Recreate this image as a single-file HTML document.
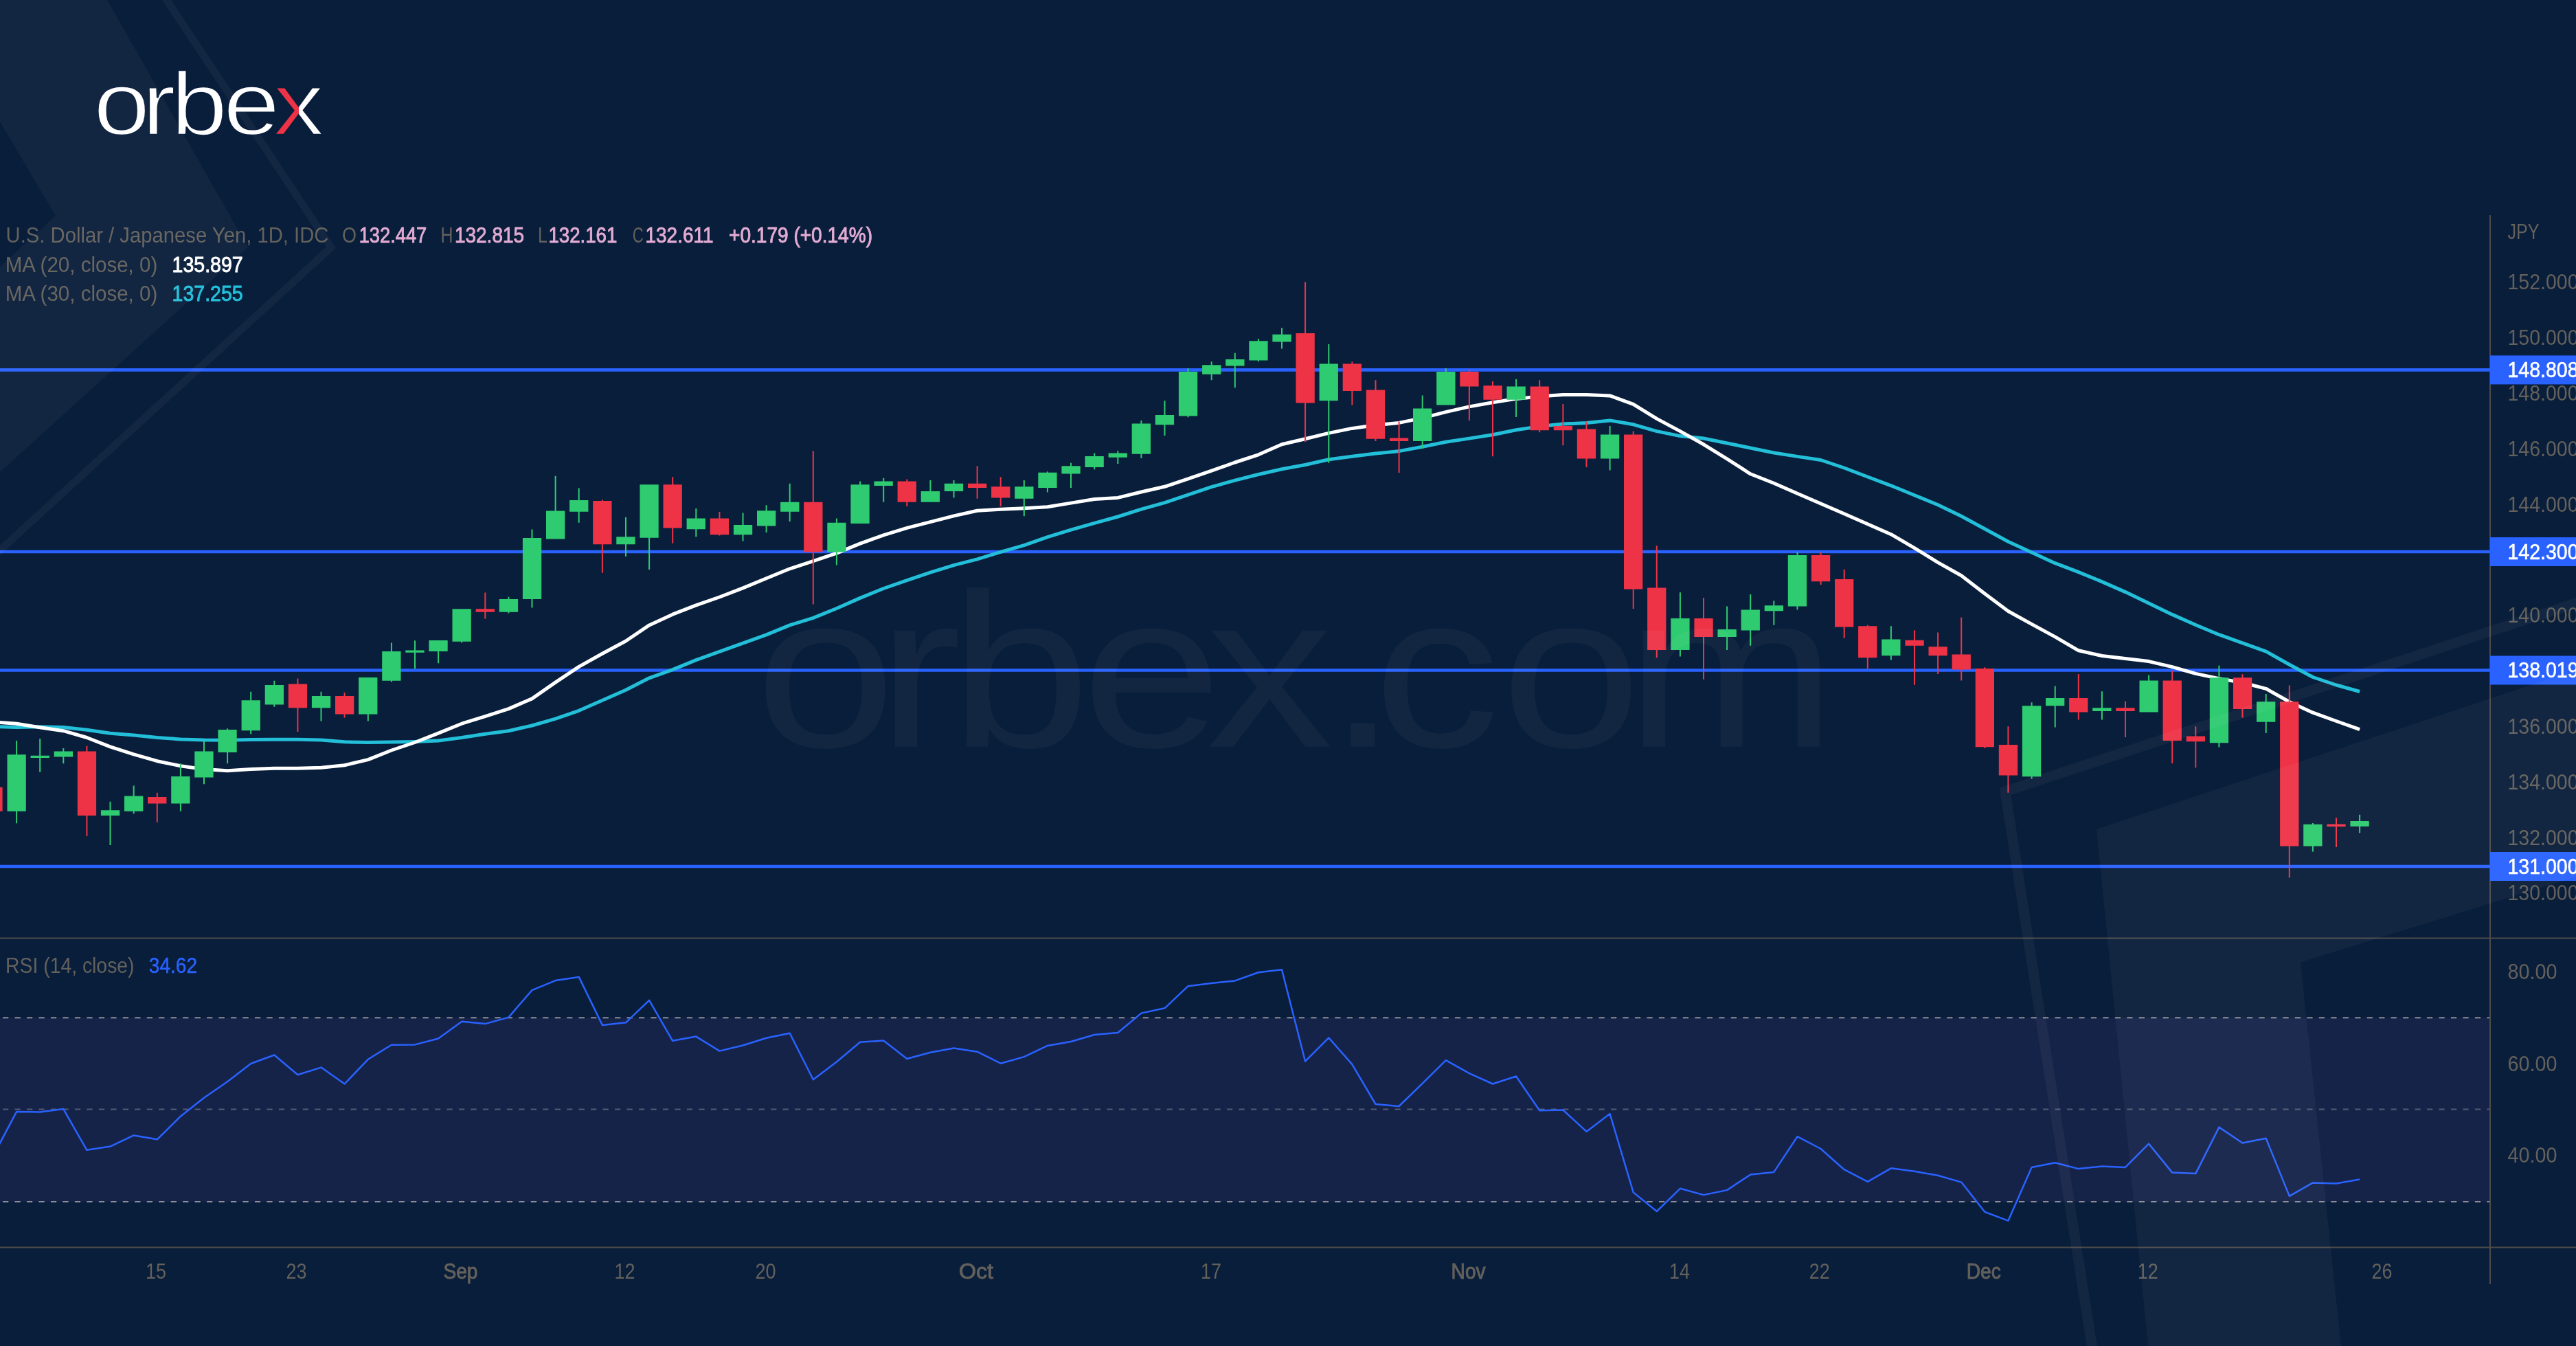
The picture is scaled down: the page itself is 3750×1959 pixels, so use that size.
<!DOCTYPE html>
<html lang="en"><head><meta charset="utf-8"><title>USDJPY chart</title>
<style>html,body{margin:0;padding:0;background:#091e3b;overflow:hidden}svg{display:block;filter:blur(0.6px)}</style></head>
<body>
<svg width="3750" height="1959" viewBox="0 0 3750 1959" font-family="'Liberation Sans', sans-serif">
<defs><linearGradient id="xg" gradientUnits="userSpaceOnUse" x1="0" x2="500" y1="0" y2="0"><stop offset="0.7028" stop-color="#ffffff"/><stop offset="0.7028" stop-color="#ee3346"/><stop offset="0.7639" stop-color="#ee3346"/><stop offset="0.7639" stop-color="#ffffff"/></linearGradient></defs>
<rect width="3750" height="1959" fill="#091e3b"/>
<text transform="scale(1.14,1)" x="119.3 181.1 218.1 285.1 348.9" y="195.7" font-size="130" fill="url(#xg)" stroke="#091e3b" stroke-width="2.4">orbex</text>
<rect x="0" y="1481.3" width="3625" height="267.7" fill="rgb(126,87,194)" fill-opacity="0.1"/>
<line x1="0" y1="1481.3" x2="3625" y2="1481.3" stroke="#a2a2a6" stroke-opacity="0.85" stroke-width="2" stroke-dasharray="8.2 9.27" stroke-dashoffset="-4.1"/>
<line x1="0" y1="1614.4" x2="3625" y2="1614.4" stroke="#a2a2a6" stroke-opacity="0.45" stroke-width="2" stroke-dasharray="8.2 9.27" stroke-dashoffset="-4.1"/>
<line x1="0" y1="1749" x2="3625" y2="1749" stroke="#a2a2a6" stroke-opacity="0.85" stroke-width="2" stroke-dasharray="8.2 9.27" stroke-dashoffset="-4.1"/>
<line x1="0" y1="1365.5" x2="3750" y2="1365.5" stroke="#4d4b49" stroke-width="2"/>
<line x1="0" y1="1815.4" x2="3750" y2="1815.4" stroke="#4d4b49" stroke-width="2"/>
<line x1="3625" y1="313" x2="3625" y2="1869" stroke="#4d4b49" stroke-width="2"/>
<line x1="0" y1="538.4" x2="3625" y2="538.4" stroke="#2962ff" stroke-width="4.7"/>
<line x1="0" y1="803.0" x2="3625" y2="803.0" stroke="#2962ff" stroke-width="4.7"/>
<line x1="0" y1="975.5" x2="3625" y2="975.5" stroke="#2962ff" stroke-width="4.7"/>
<line x1="0" y1="1261.0" x2="3625" y2="1261.0" stroke="#2962ff" stroke-width="4.7"/>
<polyline points="-0.1,1057.8 24.1,1058.5 58.2,1057.8 92.3,1058.5 126.4,1062.3 160.5,1067.2 194.7,1070.0 228.8,1073.5 262.9,1075.9 297.0,1077.0 331.1,1077.3 365.2,1076.6 399.3,1076.3 433.4,1076.3 467.5,1077.0 501.6,1079.8 535.8,1080.5 569.9,1080.1 604.0,1079.4 638.1,1078.0 672.2,1073.5 706.3,1068.2 740.4,1063.7 774.5,1056.0 808.6,1046.2 842.7,1034.3 876.9,1019.3 911.0,1004.3 945.1,986.8 979.2,974.6 1013.3,960.6 1047.4,948.4 1081.5,936.1 1115.6,923.9 1149.7,909.9 1183.8,899.4 1217.9,885.5 1252.1,870.4 1286.2,856.5 1320.3,844.6 1354.4,833.1 1388.5,822.6 1422.6,813.8 1456.7,803.4 1490.8,793.6 1524.9,781.7 1559.0,771.2 1593.2,761.4 1627.3,752.0 1661.4,741.2 1695.5,731.7 1729.6,720.2 1763.7,708.6 1797.8,699.2 1831.9,690.5 1866.0,682.8 1900.1,676.5 1934.3,668.8 1968.4,664.3 2002.5,660.1 2036.6,656.6 2070.7,650.3 2104.8,643.3 2138.9,638.1 2173.0,632.8 2207.1,625.8 2241.2,620.6 2275.4,617.1 2309.5,615.4 2343.6,611.9 2377.7,617.8 2411.8,627.6 2445.9,634.6 2480.0,638.0 2514.1,645.0 2548.2,652.0 2582.3,659.0 2616.5,664.4 2650.6,669.5 2684.7,681.0 2718.8,694.0 2752.9,706.8 2787.0,720.7 2821.1,734.7 2855.2,751.2 2889.3,769.7 2923.4,788.2 2957.6,803.9 2991.7,819.7 3025.8,832.6 3059.9,846.6 3094.0,861.6 3128.1,878.0 3162.2,894.4 3196.3,909.5 3230.4,923.7 3264.5,935.9 3298.7,948.1 3332.8,967.3 3366.9,985.5 3401.0,997.0 3435.1,1006.5" fill="none" stroke="#23bfd9" stroke-width="5" stroke-linejoin="round" stroke-linecap="butt"/>
<polyline points="-0.1,1051.5 24.1,1053.2 58.2,1058.8 92.3,1063.7 126.4,1073.5 160.5,1086.8 194.7,1097.9 228.8,1107.7 262.9,1114.7 297.0,1119.6 331.1,1121.7 365.2,1119.6 399.3,1118.2 433.4,1118.2 467.5,1117.2 501.6,1113.7 535.8,1105.6 569.9,1092.0 604.0,1080.5 638.1,1067.2 672.2,1053.2 706.3,1042.7 740.4,1031.6 774.5,1016.9 808.6,993.1 842.7,970.4 876.9,951.2 911.0,933.0 945.1,909.9 979.2,894.2 1013.3,880.9 1047.4,869.0 1081.5,855.8 1115.6,841.8 1149.7,827.8 1183.8,816.6 1217.9,805.1 1252.1,791.1 1286.2,778.9 1320.3,768.4 1354.4,759.7 1388.5,750.9 1422.6,743.3 1456.7,741.2 1490.8,739.8 1524.9,737.7 1559.0,732.1 1593.2,726.5 1627.3,724.4 1661.4,716.0 1695.5,708.3 1729.6,696.8 1763.7,685.2 1797.8,673.0 1831.9,661.8 1866.0,646.8 1900.1,638.8 1934.3,630.4 1968.4,623.4 2002.5,618.8 2036.6,615.4 2070.7,608.4 2104.8,599.6 2138.9,591.9 2173.0,585.7 2207.1,580.4 2241.2,576.9 2275.4,574.5 2309.5,574.5 2343.6,575.9 2377.7,588.4 2411.8,609.4 2445.9,627.6 2480.0,646.8 2514.1,667.8 2548.2,689.8 2582.3,703.3 2616.5,718.3 2650.6,733.0 2684.7,747.7 2718.8,762.7 2752.9,777.7 2787.0,797.6 2821.1,818.6 2855.2,837.8 2889.3,864.0 2923.4,889.5 2957.6,908.4 2991.7,926.9 3025.8,946.8 3059.9,954.5 3094.0,958.4 3128.1,962.6 3162.2,970.6 3196.3,980.4 3230.4,987.6 3264.5,993.5 3298.7,1002.3 3332.8,1021.5 3366.9,1037.2 3401.0,1049.5 3435.1,1061.7" fill="none" stroke="#ffffff" stroke-width="5" stroke-linejoin="round" stroke-linecap="butt"/>
<path d="M23.1,1078.0h2V1198.2h-2ZM10.5,1098.3h27.3V1180.7h-27.3ZM57.2,1075.2h2V1123.8h-2ZM44.6,1099.7h27.3V1103.1h-27.3ZM91.3,1088.9h2V1111.2h-2ZM78.7,1093.4h27.3V1101.4h-27.3ZM159.5,1166.8h2V1230.0h-2ZM146.9,1179.3h27.3V1187.0h-27.3ZM193.7,1143.4h2V1184.2h-2ZM181.0,1158.4h27.3V1180.7h-27.3ZM261.9,1111.2h2V1180.7h-2ZM249.2,1130.1h27.3V1169.6h-27.3ZM296.0,1078.7h2V1141.3h-2ZM283.3,1093.4h27.3V1131.5h-27.3ZM330.1,1060.2h2V1111.2h-2ZM317.4,1062.0h27.3V1095.1h-27.3ZM364.2,1006.7h2V1068.2h-2ZM351.6,1019.3h27.3V1063.3h-27.3ZM398.3,990.7h2V1028.8h-2ZM385.7,997.0h27.3V1025.6h-27.3ZM466.5,1006.7h2V1049.4h-2ZM453.9,1013.0h27.3V1030.2h-27.3ZM534.8,986.1h2V1049.4h-2ZM522.1,986.1h27.3V1039.6h-27.3ZM568.9,935.5h2V992.4h-2ZM556.2,948.1h27.3V990.7h-27.3ZM603.0,932.3h2V973.2h-2ZM590.3,946.4h27.3V949.8h-27.3ZM637.1,932.0h2V965.2h-2ZM624.4,932.0h27.3V948.1h-27.3ZM671.2,886.2h2V935.5h-2ZM658.5,886.2h27.3V933.7h-27.3ZM739.4,868.7h2V892.5h-2ZM726.8,871.9h27.3V890.8h-27.3ZM773.5,770.6h2V884.5h-2ZM760.9,783.1h27.3V871.9h-27.3ZM807.6,692.8h2V784.6h-2ZM795.0,743.5h27.3V784.6h-27.3ZM841.7,710.4h2V760.8h-2ZM829.1,727.9h27.3V744.7h-27.3ZM910.0,752.7h2V810.0h-2ZM897.3,781.3h27.3V792.2h-27.3ZM944.1,705.2h2V828.9h-2ZM931.4,705.2h27.3V782.7h-27.3ZM1012.3,740.1h2V781.3h-2ZM999.6,754.4h27.3V770.2h-27.3ZM1080.5,746.4h2V787.6h-2ZM1067.9,763.9h27.3V778.2h-27.3ZM1114.6,735.2h2V775.1h-2ZM1102.0,743.3h27.3V765.6h-27.3ZM1148.7,703.8h2V759.0h-2ZM1136.1,730.7h27.3V744.7h-27.3ZM1216.9,754.4h2V822.6h-2ZM1204.3,760.7h27.3V803.4h-27.3ZM1251.1,700.6h2V762.1h-2ZM1238.4,705.2h27.3V762.1h-27.3ZM1285.2,695.7h2V730.7h-2ZM1272.5,700.6h27.3V706.9h-27.3ZM1353.4,698.9h2V730.7h-2ZM1340.7,715.0h27.3V730.7h-27.3ZM1387.5,698.9h2V724.4h-2ZM1374.8,703.8h27.3V715.0h-27.3ZM1489.8,698.9h2V751.3h-2ZM1477.2,708.3h27.3V725.8h-27.3ZM1523.9,686.3h2V716.4h-2ZM1511.3,687.7h27.3V710.1h-27.3ZM1558.0,673.7h2V710.1h-2ZM1545.4,678.3h27.3V689.5h-27.3ZM1592.2,659.4h2V683.2h-2ZM1579.5,664.0h27.3V680.0h-27.3ZM1626.3,656.3h2V675.1h-2ZM1613.6,659.4h27.3V665.7h-27.3ZM1660.4,611.9h2V667.1h-2ZM1647.7,616.4h27.3V660.8h-27.3ZM1694.5,583.2h2V633.9h-2ZM1681.8,603.9h27.3V618.2h-27.3ZM1728.6,536.0h2V607.3h-2ZM1715.9,540.9h27.3V605.6h-27.3ZM1762.7,526.3h2V553.2h-2ZM1750.1,531.2h27.3V544.8h-27.3ZM1796.8,513.7h2V564.3h-2ZM1784.2,523.1h27.3V532.5h-27.3ZM1830.9,493.1h2V526.3h-2ZM1818.3,496.2h27.3V524.5h-27.3ZM1865.0,477.3h2V507.4h-2ZM1852.4,486.8h27.3V497.6h-27.3ZM1933.3,501.1h2V673.7h-2ZM1920.6,529.4h27.3V583.2h-27.3ZM2069.7,575.5h2V653.1h-2ZM2057.0,594.4h27.3V641.9h-27.3ZM2103.8,536.0h2V589.5h-2ZM2091.2,540.9h27.3V589.5h-27.3ZM2206.1,551.8h2V607.0h-2ZM2193.5,562.6h27.3V581.8h-27.3ZM2342.6,619.9h2V684.5h-2ZM2329.9,632.5h27.3V667.4h-27.3ZM2444.9,862.3h2V955.6h-2ZM2432.3,900.0h27.3V946.1h-27.3ZM2513.1,882.5h2V946.1h-2ZM2500.5,916.1h27.3V926.9h-27.3ZM2547.2,865.1h2V939.8h-2ZM2534.6,887.4h27.3V917.5h-27.3ZM2581.3,874.5h2V909.8h-2ZM2568.7,881.2h27.3V889.2h-27.3ZM2615.5,803.6h2V887.4h-2ZM2602.8,808.1h27.3V882.5h-27.3ZM2751.9,911.2h2V960.5h-2ZM2739.2,930.4h27.3V954.2h-27.3ZM2956.6,1022.3h2V1133.4h-2ZM2943.9,1027.2h27.3V1130.3h-27.3ZM2990.7,998.5h2V1058.6h-2ZM2978.0,1016.0h27.3V1027.2h-27.3ZM3058.9,1006.2h2V1047.5h-2ZM3046.2,1030.3h27.3V1034.9h-27.3ZM3127.1,982.5h2V1036.6h-2ZM3114.5,990.5h27.3V1036.6h-27.3ZM3229.4,968.7h2V1087.5h-2ZM3216.8,986.2h27.3V1081.2h-27.3ZM3297.7,1010.0h2V1066.9h-2ZM3285.0,1021.2h27.3V1050.8h-27.3ZM3365.9,1197.9h2V1239.5h-2ZM3353.2,1199.7h27.3V1231.5h-27.3ZM3434.1,1185.7h2V1212.3h-2ZM3421.4,1195.1h27.3V1202.8h-27.3Z" fill="#2ecb70"/>
<path d="M-11.0,1145.8h2V1180.7h-2ZM-23.7,1145.8h27.3V1180.7h-27.3ZM125.4,1085.7h2V1217.1h-2ZM112.8,1093.4h27.3V1187.0h-27.3ZM227.8,1153.8h2V1196.8h-2ZM215.1,1160.1h27.3V1169.6h-27.3ZM432.4,987.5h2V1065.1h-2ZM419.8,995.6h27.3V1030.2h-27.3ZM500.6,1008.1h2V1044.5h-2ZM488.0,1013.0h27.3V1039.6h-27.3ZM705.3,862.5h2V900.5h-2ZM692.7,886.2h27.3V890.8h-27.3ZM875.9,727.5h2V833.8h-2ZM863.2,728.9h27.3V792.2h-27.3ZM978.2,694.3h2V790.8h-2ZM965.5,705.2h27.3V768.4h-27.3ZM1046.4,745.0h2V779.6h-2ZM1033.7,754.4h27.3V778.2h-27.3ZM1182.8,656.3h2V879.5h-2ZM1170.2,730.7h27.3V803.4h-27.3ZM1319.3,697.5h2V737.0h-2ZM1306.6,700.6h27.3V730.7h-27.3ZM1421.6,678.3h2V725.8h-2ZM1409.0,703.8h27.3V710.1h-27.3ZM1455.7,694.3h2V737.0h-2ZM1443.1,708.3h27.3V724.4h-27.3ZM1899.1,410.6h2V643.3h-2ZM1886.5,485.0h27.3V586.4h-27.3ZM1967.4,526.3h2V589.5h-2ZM1954.7,529.4h27.3V568.9h-27.3ZM2001.5,553.2h2V641.9h-2ZM1988.8,567.5h27.3V638.8h-27.3ZM2035.6,613.6h2V688.0h-2ZM2022.9,637.4h27.3V641.9h-27.3ZM2137.9,537.4h2V611.9h-2ZM2125.3,540.9h27.3V562.6h-27.3ZM2172.0,554.9h2V664.3h-2ZM2159.4,561.2h27.3V581.8h-27.3ZM2240.2,553.2h2V629.3h-2ZM2227.6,562.6h27.3V626.2h-27.3ZM2274.4,588.1h2V648.2h-2ZM2261.7,619.9h27.3V626.2h-27.3ZM2308.5,613.6h2V680.0h-2ZM2295.8,624.4h27.3V667.4h-27.3ZM2376.7,627.6h2V886.1h-2ZM2364.0,632.5h27.3V857.5h-27.3ZM2410.8,794.2h2V957.3h-2ZM2398.1,855.6h27.3V946.1h-27.3ZM2479.0,870.0h2V988.8h-2ZM2466.4,900.0h27.3V926.9h-27.3ZM2649.6,803.6h2V851.1h-2ZM2636.9,808.1h27.3V846.2h-27.3ZM2683.7,828.7h2V928.7h-2ZM2671.0,843.1h27.3V912.6h-27.3ZM2717.8,909.8h2V973.0h-2ZM2705.1,911.2h27.3V957.3h-27.3ZM2786.0,917.5h2V996.8h-2ZM2773.4,931.8h27.3V939.8h-27.3ZM2820.1,920.6h2V981.1h-2ZM2807.5,941.2h27.3V954.2h-27.3ZM2854.2,898.6h2V990.5h-2ZM2841.6,952.4h27.3V974.4h-27.3ZM2888.3,971.3h2V1089.0h-2ZM2875.7,973.0h27.3V1087.3h-27.3ZM2922.4,1057.2h2V1153.7h-2ZM2909.8,1084.1h27.3V1128.5h-27.3ZM3024.8,981.1h2V1047.5h-2ZM3012.1,1016.0h27.3V1036.6h-27.3ZM3093.0,1020.6h2V1073.0h-2ZM3080.3,1030.3h27.3V1034.9h-27.3ZM3161.2,976.2h2V1111.0h-2ZM3148.6,990.5h27.3V1077.9h-27.3ZM3195.3,1057.2h2V1117.3h-2ZM3182.7,1071.6h27.3V1079.2h-27.3ZM3263.5,981.3h2V1044.6h-2ZM3250.9,986.2h27.3V1032.0h-27.3ZM3331.8,997.4h2V1277.6h-2ZM3319.1,1021.2h27.3V1231.5h-27.3ZM3400.0,1190.3h2V1232.9h-2ZM3387.3,1199.6h27.3V1203.0h-27.3Z" fill="#ee3346"/>
<polyline points="-10.0,1682.3 24.1,1618.1 58.2,1618.5 92.3,1614.1 126.4,1673.8 160.5,1668.6 194.7,1652.4 228.8,1658.3 262.9,1624.7 297.0,1597.8 331.1,1574.2 365.2,1548.0 399.3,1535.5 433.4,1564.3 467.5,1553.6 501.6,1577.5 535.8,1541.8 569.9,1520.7 604.0,1520.4 638.1,1511.5 672.2,1486.8 706.3,1490.1 740.4,1480.6 774.5,1441.1 808.6,1427.1 842.7,1421.9 876.9,1492.0 911.0,1488.3 945.1,1455.8 979.2,1514.8 1013.3,1508.6 1047.4,1529.6 1081.5,1521.5 1115.6,1510.8 1149.7,1503.8 1183.8,1571.3 1217.9,1545.5 1252.1,1516.7 1286.2,1514.5 1320.3,1541.0 1354.4,1531.8 1388.5,1525.5 1422.6,1530.7 1456.7,1547.7 1490.8,1538.1 1524.9,1521.9 1559.0,1516.0 1593.2,1506.0 1627.3,1503.0 1661.4,1474.6 1695.5,1467.3 1729.6,1435.2 1763.7,1431.1 1797.8,1427.4 1831.9,1415.3 1866.0,1411.2 1900.1,1544.7 1934.3,1510.4 1968.4,1549.1 2002.5,1607.0 2036.6,1610.0 2070.7,1576.8 2104.8,1543.2 2138.9,1562.1 2173.0,1577.5 2207.1,1566.5 2241.2,1616.3 2275.4,1615.5 2309.5,1646.9 2343.6,1621.1 2377.7,1735.4 2411.8,1763.0 2445.9,1729.8 2480.0,1739.1 2514.1,1732.1 2548.2,1709.6 2582.3,1705.9 2616.5,1654.2 2650.6,1672.0 2684.7,1702.2 2718.8,1719.9 2752.9,1700.3 2787.0,1704.8 2821.1,1710.7 2855.2,1720.6 2889.3,1763.8 2923.4,1776.7 2957.6,1698.9 2991.7,1692.2 3025.8,1701.1 3059.9,1697.4 3094.0,1698.9 3128.1,1664.6 3162.2,1706.6 3196.3,1708.1 3230.4,1640.6 3264.5,1663.5 3298.7,1656.8 3332.8,1740.9 3366.9,1721.4 3401.0,1722.5 3435.1,1716.6" fill="none" stroke="#2962ff" stroke-width="2.5" stroke-linejoin="round"/>
<text transform="scale(1.15,1)" x="956.0 1110.6 1202.4 1369.1 1527.4 1680.5 1738.5 1899.9 2058.0" y="1086.8" font-size="320" fill="#ffffff" fill-opacity="0.04">orbex.com</text>
<text y="353.0" font-size="31"><tspan x="8.5" textLength="470.0" lengthAdjust="spacingAndGlyphs" fill="#64615c">U.S. Dollar / Japanese Yen, 1D, IDC</tspan> <tspan x="498.0" textLength="21.0" lengthAdjust="spacingAndGlyphs" fill="#64615c">O</tspan> <tspan x="522.7" textLength="98.6" lengthAdjust="spacingAndGlyphs" fill="#e2abd2" stroke="#e2abd2" stroke-width="0.9">132.447</tspan> <tspan x="641.5" textLength="18.0" lengthAdjust="spacingAndGlyphs" fill="#64615c">H</tspan> <tspan x="662.0" textLength="101.0" lengthAdjust="spacingAndGlyphs" fill="#e2abd2" stroke="#e2abd2" stroke-width="0.9">132.815</tspan> <tspan x="783.0" textLength="13.0" lengthAdjust="spacingAndGlyphs" fill="#64615c">L</tspan> <tspan x="798.4" textLength="100.0" lengthAdjust="spacingAndGlyphs" fill="#e2abd2" stroke="#e2abd2" stroke-width="0.9">132.161</tspan> <tspan x="920.7" textLength="16.0" lengthAdjust="spacingAndGlyphs" fill="#64615c">C</tspan> <tspan x="939.5" textLength="99.0" lengthAdjust="spacingAndGlyphs" fill="#e2abd2" stroke="#e2abd2" stroke-width="0.9">132.611</tspan> <tspan x="1061.0" textLength="209.0" lengthAdjust="spacingAndGlyphs" fill="#e2abd2" stroke="#e2abd2" stroke-width="0.9">+0.179 (+0.14%)</tspan></text>
<text y="395.8" font-size="31"><tspan x="7.7" textLength="221.6" lengthAdjust="spacingAndGlyphs" fill="#64615c">MA (20, close, 0)</tspan> <tspan x="250.6" textLength="103.0" lengthAdjust="spacingAndGlyphs" fill="#ffffff" stroke="#ffffff" stroke-width="0.9">135.897</tspan></text>
<text y="438.1" font-size="31"><tspan x="7.7" textLength="221.6" lengthAdjust="spacingAndGlyphs" fill="#64615c">MA (30, close, 0)</tspan> <tspan x="250.6" textLength="103.0" lengthAdjust="spacingAndGlyphs" fill="#23bfd9" stroke="#23bfd9" stroke-width="0.9">137.255</tspan></text>
<text y="1416.4" font-size="31"><tspan x="8.1" textLength="187.4" lengthAdjust="spacingAndGlyphs" fill="#64615c">RSI (14, close)</tspan> <tspan x="216.8" textLength="70.2" lengthAdjust="spacingAndGlyphs" fill="#2962ff" stroke="#2962ff" stroke-width="0.5">34.62</tspan></text>
<text x="3650.5" y="348.2" font-size="31" fill="#64615c" textLength="46.0" lengthAdjust="spacingAndGlyphs">JPY</text>
<text x="3650.5" y="1310.4" font-size="31" fill="#64615c" textLength="103.0" lengthAdjust="spacingAndGlyphs">130.000</text>
<text x="3650.5" y="1229.6" font-size="31" fill="#64615c" textLength="103.0" lengthAdjust="spacingAndGlyphs">132.000</text>
<text x="3650.5" y="1148.7" font-size="31" fill="#64615c" textLength="103.0" lengthAdjust="spacingAndGlyphs">134.000</text>
<text x="3650.5" y="1067.9" font-size="31" fill="#64615c" textLength="103.0" lengthAdjust="spacingAndGlyphs">136.000</text>
<text x="3650.5" y="906.2" font-size="31" fill="#64615c" textLength="103.0" lengthAdjust="spacingAndGlyphs">140.000</text>
<text x="3650.5" y="744.5" font-size="31" fill="#64615c" textLength="103.0" lengthAdjust="spacingAndGlyphs">144.000</text>
<text x="3650.5" y="663.7" font-size="31" fill="#64615c" textLength="103.0" lengthAdjust="spacingAndGlyphs">146.000</text>
<text x="3650.5" y="582.9" font-size="31" fill="#64615c" textLength="103.0" lengthAdjust="spacingAndGlyphs">148.000</text>
<text x="3650.5" y="502.0" font-size="31" fill="#64615c" textLength="103.0" lengthAdjust="spacingAndGlyphs">150.000</text>
<text x="3650.5" y="421.2" font-size="31" fill="#64615c" textLength="103.0" lengthAdjust="spacingAndGlyphs">152.000</text>
<rect x="3625" y="517.4" width="125" height="42" fill="#2962ff"/>
<rect x="3625" y="782.0" width="125" height="42" fill="#2962ff"/>
<rect x="3625" y="954.5" width="125" height="42" fill="#2962ff"/>
<rect x="3625" y="1240.0" width="125" height="42" fill="#2962ff"/>
<text x="3650.5" y="549.0" font-size="31" fill="#ffffff" textLength="103.0" lengthAdjust="spacingAndGlyphs" stroke="#ffffff" stroke-width="0.6">148.808</text>
<text x="3650.5" y="813.6" font-size="31" fill="#ffffff" textLength="103.0" lengthAdjust="spacingAndGlyphs" stroke="#ffffff" stroke-width="0.6">142.300</text>
<text x="3650.5" y="986.1" font-size="31" fill="#ffffff" textLength="103.0" lengthAdjust="spacingAndGlyphs" stroke="#ffffff" stroke-width="0.6">138.019</text>
<text x="3650.5" y="1271.7" font-size="31" fill="#ffffff" textLength="103.0" lengthAdjust="spacingAndGlyphs" stroke="#ffffff" stroke-width="0.6">131.000</text>
<text x="3650.5" y="1425.2" font-size="31" fill="#64615c" textLength="72.0" lengthAdjust="spacingAndGlyphs">80.00</text>
<text x="3650.5" y="1558.7" font-size="31" fill="#64615c" textLength="72.0" lengthAdjust="spacingAndGlyphs">60.00</text>
<text x="3650.5" y="1692.2" font-size="31" fill="#64615c" textLength="72.0" lengthAdjust="spacingAndGlyphs">40.00</text>
<text x="227.0" y="1861.2" font-size="31" fill="#64615c" textLength="30.0" lengthAdjust="spacingAndGlyphs" text-anchor="middle">15</text>
<text x="431.5" y="1861.2" font-size="31" fill="#64615c" textLength="30.0" lengthAdjust="spacingAndGlyphs" text-anchor="middle">23</text>
<text x="670.5" y="1861.2" font-size="31" fill="#64615c" textLength="50.0" lengthAdjust="spacingAndGlyphs" stroke="#64615c" stroke-width="0.9" text-anchor="middle">Sep</text>
<text x="909.4" y="1861.2" font-size="31" fill="#64615c" textLength="30.0" lengthAdjust="spacingAndGlyphs" text-anchor="middle">12</text>
<text x="1114.5" y="1861.2" font-size="31" fill="#64615c" textLength="30.0" lengthAdjust="spacingAndGlyphs" text-anchor="middle">20</text>
<text x="1421.0" y="1861.2" font-size="31" fill="#64615c" textLength="50.0" lengthAdjust="spacingAndGlyphs" stroke="#64615c" stroke-width="0.9" text-anchor="middle">Oct</text>
<text x="1763.0" y="1861.2" font-size="31" fill="#64615c" textLength="30.0" lengthAdjust="spacingAndGlyphs" text-anchor="middle">17</text>
<text x="2137.6" y="1861.2" font-size="31" fill="#64615c" textLength="50.0" lengthAdjust="spacingAndGlyphs" stroke="#64615c" stroke-width="0.9" text-anchor="middle">Nov</text>
<text x="2445.0" y="1861.2" font-size="31" fill="#64615c" textLength="30.0" lengthAdjust="spacingAndGlyphs" text-anchor="middle">14</text>
<text x="2648.8" y="1861.2" font-size="31" fill="#64615c" textLength="30.0" lengthAdjust="spacingAndGlyphs" text-anchor="middle">22</text>
<text x="2887.8" y="1861.2" font-size="31" fill="#64615c" textLength="50.0" lengthAdjust="spacingAndGlyphs" stroke="#64615c" stroke-width="0.9" text-anchor="middle">Dec</text>
<text x="3126.7" y="1861.2" font-size="31" fill="#64615c" textLength="30.0" lengthAdjust="spacingAndGlyphs" text-anchor="middle">12</text>
<text x="3467.5" y="1861.2" font-size="31" fill="#64615c" textLength="30.0" lengthAdjust="spacingAndGlyphs" text-anchor="middle">26</text>
<g fill="#ffffff" fill-opacity="0.04" stroke="none">
<path d="M0,0 L156,0 L361,360 L0,687 Z M0,177 L81,314 L0,388 Z" fill-rule="evenodd"/>
<path d="M3750,975 L3052,1207 L3127,1959 L3408,1959 L3349,1400.6 L3750,1276 Z"/>
</g>
<g fill="none" stroke="#ffffff" stroke-opacity="0.042">
<path d="M236,-10 L482,360 L-10,810" stroke-width="11"/>
<path d="M3767,872 L2919,1152 L3047,1970" stroke-width="15"/>
</g>
</svg>
</body></html>
